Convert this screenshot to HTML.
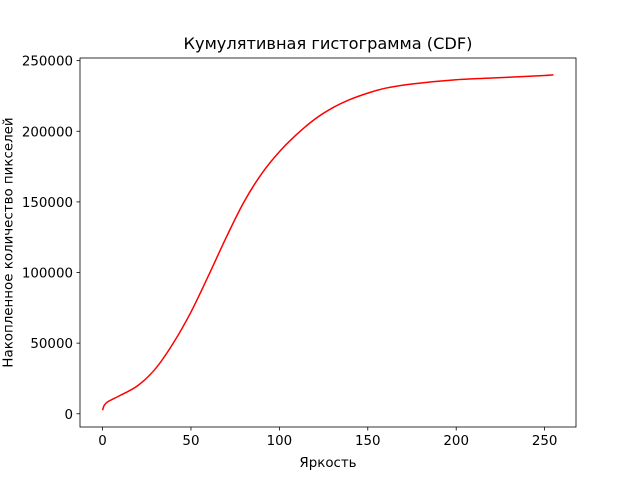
<!DOCTYPE html>
<html><head><meta charset="utf-8"><style>
body{margin:0;background:#fff}
svg text{font-family:"DejaVu Sans","Liberation Sans",sans-serif;fill:#000}
</style></head><body>
<svg width="640" height="480">
<rect x="0" y="0" width="640" height="480" fill="#fff"/>
<g id="axes"></g>
<path id="line" fill="none" stroke="red" stroke-width="1.5"/>
<rect x="80" y="58" width="496" height="369" fill="none" stroke="#000" stroke-width="0.8"/>
<text x="328" y="49" font-size="16.2" text-anchor="middle">Кумулятивная гистограмма (CDF)</text>
<text x="328" y="467" font-size="13.4" text-anchor="middle">Яркость</text>
<text transform="translate(9,242.5) rotate(-90)" font-size="13.4" text-anchor="middle" dominant-baseline="central">Накопленное количество пикселей</text>
</svg>
<script>
const xs=[0,1,3,10,20,30,40,50,60,70,80,90,100,110,120,130,140,150,160,175,200,225,250,255];
const ys=[2500,6000,8500,13000,20000,32000,50000,72000,98000,125000,150000,170000,185500,198000,208500,216500,222500,227000,230500,233500,236500,238000,239500,240000];
const xTicks=[0,50,100,150,200,250];
const yTicks=[0,50000,100000,150000,200000,250000];
const X0=80,X1=576,Y0=427,Y1=58,xmin=-12.75,xmax=267.75,ymin=-9375,ymax=251875;
const sx=v=>X0+(v-xmin)/(xmax-xmin)*(X1-X0);
const sy=v=>Y0-(v-ymin)/(ymax-ymin)*(Y0-Y1);
const ns="http://www.w3.org/2000/svg",g=document.getElementById('axes');
function mk(t,a){const e=document.createElementNS(ns,t);for(const k in a)e.setAttribute(k,a[k]);g.appendChild(e);return e;}
xTicks.forEach(v=>{const x=sx(v);
const l=mk('line',{x1:x,x2:x,y1:Y0,y2:Y0+3.5,stroke:'#000','stroke-width':0.8});


const t=mk('text',{x:x,y:Y0+18,'font-size':13.4,'text-anchor':'middle'});t.textContent=v;

});
yTicks.forEach(v=>{const y=sy(v);
const l=mk('line',{x1:X0-3.5,x2:X0,y1:y,y2:y,stroke:'#000','stroke-width':0.8});


const t=mk('text',{x:X0-7,y:y+5,'font-size':13.4,'text-anchor':'end'});t.textContent=v;

});
const P=xs.map((x,i)=>[sx(x),sy(ys[i])]);
let d='M'+P[0].join(',');
for(let i=0;i<P.length-1;i++){const p0=P[Math.max(i-1,0)],p1=P[i],p2=P[i+1],p3=P[Math.min(i+2,P.length-1)];
d+=` C${p1[0]+(p2[0]-p0[0])/6},${p1[1]+(p2[1]-p0[1])/6} ${p2[0]-(p3[0]-p1[0])/6},${p2[1]-(p3[1]-p1[1])/6} ${p2[0]},${p2[1]}`;}
document.getElementById('line').setAttribute('d',d);
</script>
</body></html>
